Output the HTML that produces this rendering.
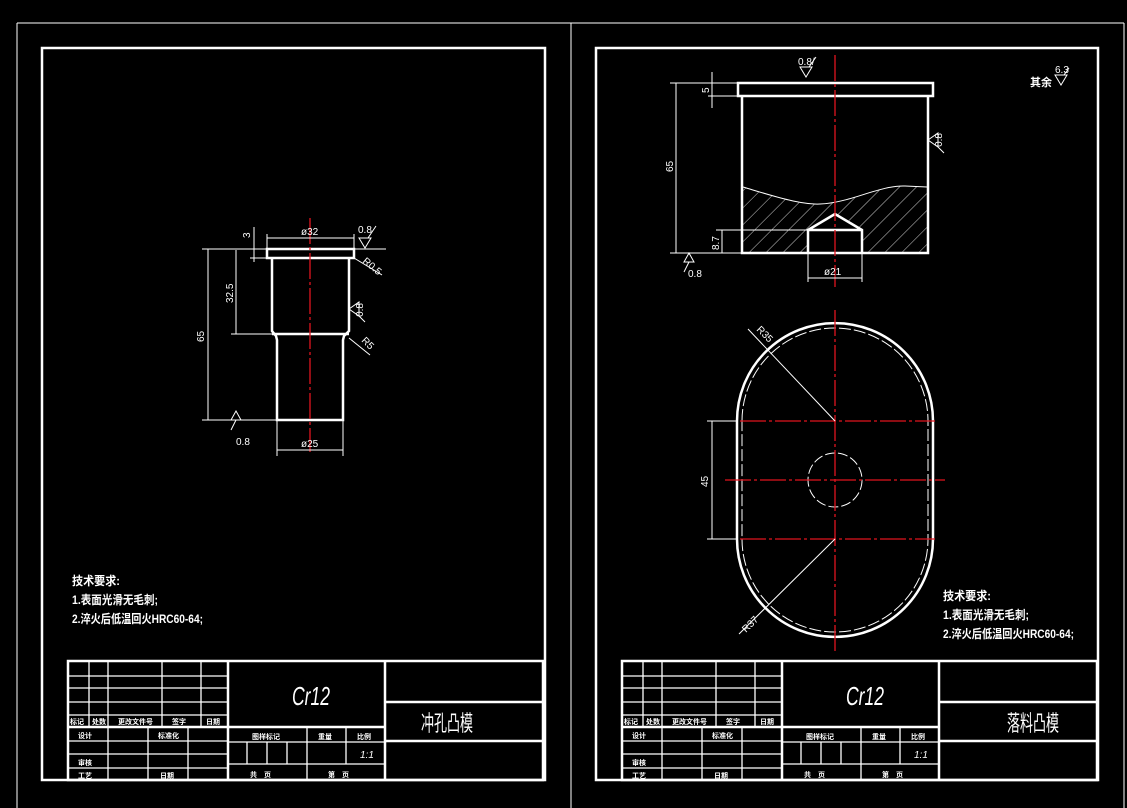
<!DOCTYPE html>
<html><head><meta charset="utf-8"><style>
html,body{margin:0;padding:0;background:#000;width:1127px;height:808px;overflow:hidden}
svg{display:block}
text{fill:#fff;font-family:"Liberation Sans","Noto Sans CJK SC",sans-serif}
</style></head><body>
<svg width="1127" height="808" viewBox="0 0 1127 808" xmlns="http://www.w3.org/2000/svg">
<defs>
<pattern id="h" patternUnits="userSpaceOnUse" width="12" height="12" patternTransform="rotate(45)">
<line x1="0" y1="0" x2="0" y2="12" stroke="#fff" stroke-width="0.8"/>
</pattern>
<clipPath id="hc"><path d="M743,187 C770,195 800,205 820,204 C850,203 880,185 905,186 L927,187 L927,252 L862,252 L862,230 L835,213 L808,230 L808,252 L743,252 Z"/></clipPath>
<g id="tb" stroke="#fff" fill="none">
<rect x="68" y="661" width="475" height="119" stroke-width="2.5"/>
<line x1="228" y1="661" x2="228" y2="780" stroke-width="2.5"/>
<line x1="385" y1="661" x2="385" y2="780" stroke-width="2.5"/>
<g stroke-width="1.3">
<line x1="68" y1="676" x2="228" y2="676"/><line x1="68" y1="688" x2="228" y2="688"/>
<line x1="68" y1="702" x2="228" y2="702"/><line x1="68" y1="715" x2="228" y2="715"/>
<line x1="68" y1="741" x2="228" y2="741"/><line x1="68" y1="754" x2="228" y2="754"/><line x1="68" y1="768" x2="228" y2="768"/>
<line x1="89" y1="661" x2="89" y2="727"/><line x1="108" y1="661" x2="108" y2="780"/>
<line x1="162" y1="661" x2="162" y2="727"/><line x1="201" y1="661" x2="201" y2="727"/>
<line x1="148" y1="727" x2="148" y2="780"/><line x1="188" y1="727" x2="188" y2="780"/>
<line x1="228" y1="742" x2="385" y2="742"/><line x1="228" y1="764" x2="385" y2="764"/>
<line x1="307" y1="727" x2="307" y2="780"/><line x1="346" y1="727" x2="346" y2="764"/>
<line x1="247" y1="742" x2="247" y2="764"/><line x1="267" y1="742" x2="267" y2="764"/><line x1="287" y1="742" x2="287" y2="764"/>
</g>
<line x1="68" y1="727" x2="385" y2="727" stroke-width="2.5"/>
<line x1="385" y1="702" x2="543" y2="702" stroke-width="2.5"/>
<line x1="385" y1="741" x2="543" y2="741" stroke-width="2.5"/>
</g>
<g id="tbt" font-size="7" font-weight="bold">
<text x="70" y="724">标记</text><text x="92" y="724">处数</text><text x="118" y="724">更改文件号</text><text x="172" y="724">签字</text><text x="206" y="724">日期</text>
<text x="78" y="738">设计</text><text x="158" y="738">标准化</text><text x="78" y="765">审核</text><text x="78" y="778">工艺</text><text x="160" y="778">日期</text>
<text x="252" y="739">图样标记</text><text x="318" y="739">重量</text><text x="357" y="739">比例</text>
<text x="360" y="758" font-weight="normal" font-style="italic" font-size="10">1:1</text>
<text x="250" y="777">共　页</text><text x="328" y="777">第　页</text>
</g>
</defs>

<g stroke="#fff" stroke-width="1" fill="none">
<line x1="17" y1="23" x2="1124" y2="23"/>
<line x1="17" y1="23" x2="17" y2="808"/>
<line x1="571" y1="23" x2="571" y2="808"/>
<line x1="1124" y1="23" x2="1124" y2="808"/>
</g>
<g stroke="#fff" stroke-width="2.5" fill="none">
<rect x="42" y="48" width="503" height="732"/>
<rect x="596" y="48" width="502" height="732"/>
</g>

<use href="#tb"/><use href="#tbt"/>
<g transform="translate(554,0)"><use href="#tb"/><use href="#tbt"/></g>
<text x="292" y="705" font-size="26" font-style="italic" textLength="38" lengthAdjust="spacingAndGlyphs">Cr12</text>
<text x="846" y="705" font-size="26" font-style="italic" textLength="38" lengthAdjust="spacingAndGlyphs">Cr12</text>
<text x="421" y="731" font-size="22" textLength="52" lengthAdjust="spacingAndGlyphs">冲孔凸模</text>
<text x="1007" y="731" font-size="22" textLength="52" lengthAdjust="spacingAndGlyphs">落料凸模</text>

<g font-size="12" font-weight="bold">
<text x="72" y="585" textLength="48" lengthAdjust="spacingAndGlyphs">技术要求:</text>
<text x="72" y="604" textLength="86" lengthAdjust="spacingAndGlyphs">1.表面光滑无毛刺;</text>
<text x="72" y="623" textLength="131" lengthAdjust="spacingAndGlyphs">2.淬火后低温回火HRC60-64;</text>
<text x="943" y="600" textLength="48" lengthAdjust="spacingAndGlyphs">技术要求:</text>
<text x="943" y="619" textLength="86" lengthAdjust="spacingAndGlyphs">1.表面光滑无毛刺;</text>
<text x="943" y="638" textLength="131" lengthAdjust="spacingAndGlyphs">2.淬火后低温回火HRC60-64;</text>
</g>

<g stroke="#fff" fill="none" stroke-width="2.5">
<rect x="267" y="249" width="87" height="9"/>
<path d="M272,258 L272,331 L276,336 L277,340 L277,420 L343,420 L343,340 L344,336 L349,331 L349,258"/>
<line x1="272" y1="334" x2="349" y2="334"/>
</g>
<line x1="310" y1="218" x2="310" y2="452" stroke="#e0141e" stroke-width="1.3" stroke-dasharray="26,3,3,3"/>
<g stroke="#fff" fill="none" stroke-width="1">
<line x1="202" y1="249" x2="267" y2="249"/><line x1="202" y1="420" x2="277" y2="420"/>
<line x1="208" y1="249" x2="208" y2="420"/>
<line x1="231" y1="334" x2="272" y2="334"/><line x1="236" y1="250" x2="236" y2="334"/>
<line x1="254" y1="227" x2="254" y2="262"/><line x1="250" y1="258" x2="267" y2="258"/>
<line x1="267" y1="248" x2="267" y2="234"/><line x1="354" y1="248" x2="354" y2="234"/>
<line x1="267" y1="238" x2="354" y2="238"/>
<line x1="277" y1="420" x2="277" y2="456"/><line x1="343" y1="420" x2="343" y2="456"/>
<line x1="277" y1="450" x2="343" y2="450"/>
<line x1="354" y1="249" x2="386" y2="249"/>
<path d="M359,238 L371,238 L365,248 Z M368,238 L376,226"/>
<line x1="354" y1="258" x2="382" y2="275"/>
<path d="M349,309 L359,302 L359,316 Z M359,316 L365,322"/>
<line x1="349" y1="338" x2="370" y2="355"/>
<path d="M231,420 L241,420 L236,411 Z M231,430 L236,420"/>
</g>
<g font-size="10">
<text x="301" y="235">ø32</text>
<text x="301" y="447">ø25</text>
<text x="358" y="233">0.8</text>
<text x="236" y="445">0.8</text>
<text transform="translate(204,342) rotate(-90)">65</text>
<text transform="translate(233,303) rotate(-90)">32.5</text>
<text transform="translate(250,238) rotate(-90)">3</text>
<text transform="translate(362,262) rotate(40)">R0.5</text>
<text transform="translate(361,341) rotate(45)">R5</text>
<text transform="translate(363,303) rotate(-90)" text-anchor="end">0.8</text>
</g>

<g stroke="#fff" fill="none" stroke-width="2.5">
<rect x="738" y="83" width="195" height="13"/>
<path d="M742,96 L742,253 L928,253 L928,96"/>
<path d="M808,253 L808,230 L835,214 L862,230 L862,253 M808,230 L862,230"/>
</g>
<rect x="742" y="180" width="186" height="73" fill="url(#h)" clip-path="url(#hc)"/>
<path d="M743,187 C770,195 800,205 820,204 C850,203 880,185 905,186 L927,187" stroke="#fff" fill="none" stroke-width="1"/>
<line x1="835" y1="55" x2="835" y2="287" stroke="#e0141e" stroke-width="1.3" stroke-dasharray="26,3,3,3"/>
<g stroke="#fff" fill="none" stroke-width="1">
<line x1="670" y1="83" x2="738" y2="83"/><line x1="670" y1="253" x2="742" y2="253"/>
<line x1="676" y1="83" x2="676" y2="253"/>
<line x1="712" y1="72" x2="712" y2="108"/><line x1="708" y1="96" x2="738" y2="96"/>
<line x1="716" y1="230" x2="808" y2="230"/><line x1="722" y1="230" x2="722" y2="253"/>
<line x1="808" y1="253" x2="808" y2="282"/><line x1="862" y1="253" x2="862" y2="282"/>
<line x1="808" y1="278" x2="862" y2="278"/>
<path d="M800,67 L812,67 L806,77 Z M809,67 L816,57"/>
<path d="M928,140 L938,133 L938,147 Z M938,147 L944,153"/>
<path d="M684,262 L694,262 L689,253 Z M684,272 L689,262"/>
<path d="M1055,75 L1067,75 L1061,85 Z M1064,75 L1069,68"/>
</g>
<g font-size="10">
<text x="798" y="65">0.8/</text>
<text x="824" y="275">ø21</text>
<text x="688" y="277">0.8</text>
<text transform="translate(673,172) rotate(-90)">65</text>
<text transform="translate(709,93) rotate(-90)">5</text>
<text transform="translate(719,250) rotate(-90)">8.7</text>
<text transform="translate(942,133) rotate(-90)" text-anchor="end">0.8</text>
<text x="1055" y="73">6.3</text>
<text x="1030" y="86" font-weight="bold" font-size="11">其余</text>
</g>

<path d="M737,421 A98,98 0 0 1 933,421 L933,539 A98,98 0 0 1 737,539 Z" stroke="#fff" stroke-width="2.5" fill="none"/>
<path d="M742,421 A93,93 0 0 1 928,421 L928,539 A93,93 0 0 1 742,539 Z" stroke="#fff" stroke-width="1" fill="none" stroke-dasharray="12,3"/>
<circle cx="835" cy="480" r="27" stroke="#fff" stroke-width="1" fill="none" stroke-dasharray="10,3"/>
<g stroke="#e0141e" stroke-width="1.3" stroke-dasharray="26,3,3,3">
<line x1="740" y1="421" x2="935" y2="421"/>
<line x1="740" y1="539" x2="935" y2="539"/>
<line x1="725" y1="480" x2="945" y2="480"/>
<line x1="835" y1="310" x2="835" y2="652"/>
</g>
<g stroke="#fff" stroke-width="1" fill="none">
<line x1="707" y1="421" x2="737" y2="421"/><line x1="707" y1="539" x2="737" y2="539"/>
<line x1="712" y1="421" x2="712" y2="539"/>
<line x1="835" y1="421" x2="748" y2="329"/>
<line x1="835" y1="539" x2="739" y2="634"/>
</g>
<g font-size="10">
<text transform="translate(708,487) rotate(-90)">45</text>
<text transform="translate(756,330) rotate(45)">R35</text>
<text transform="translate(746,633) rotate(-45)">R37</text>
</g>
</svg>
</body></html>
